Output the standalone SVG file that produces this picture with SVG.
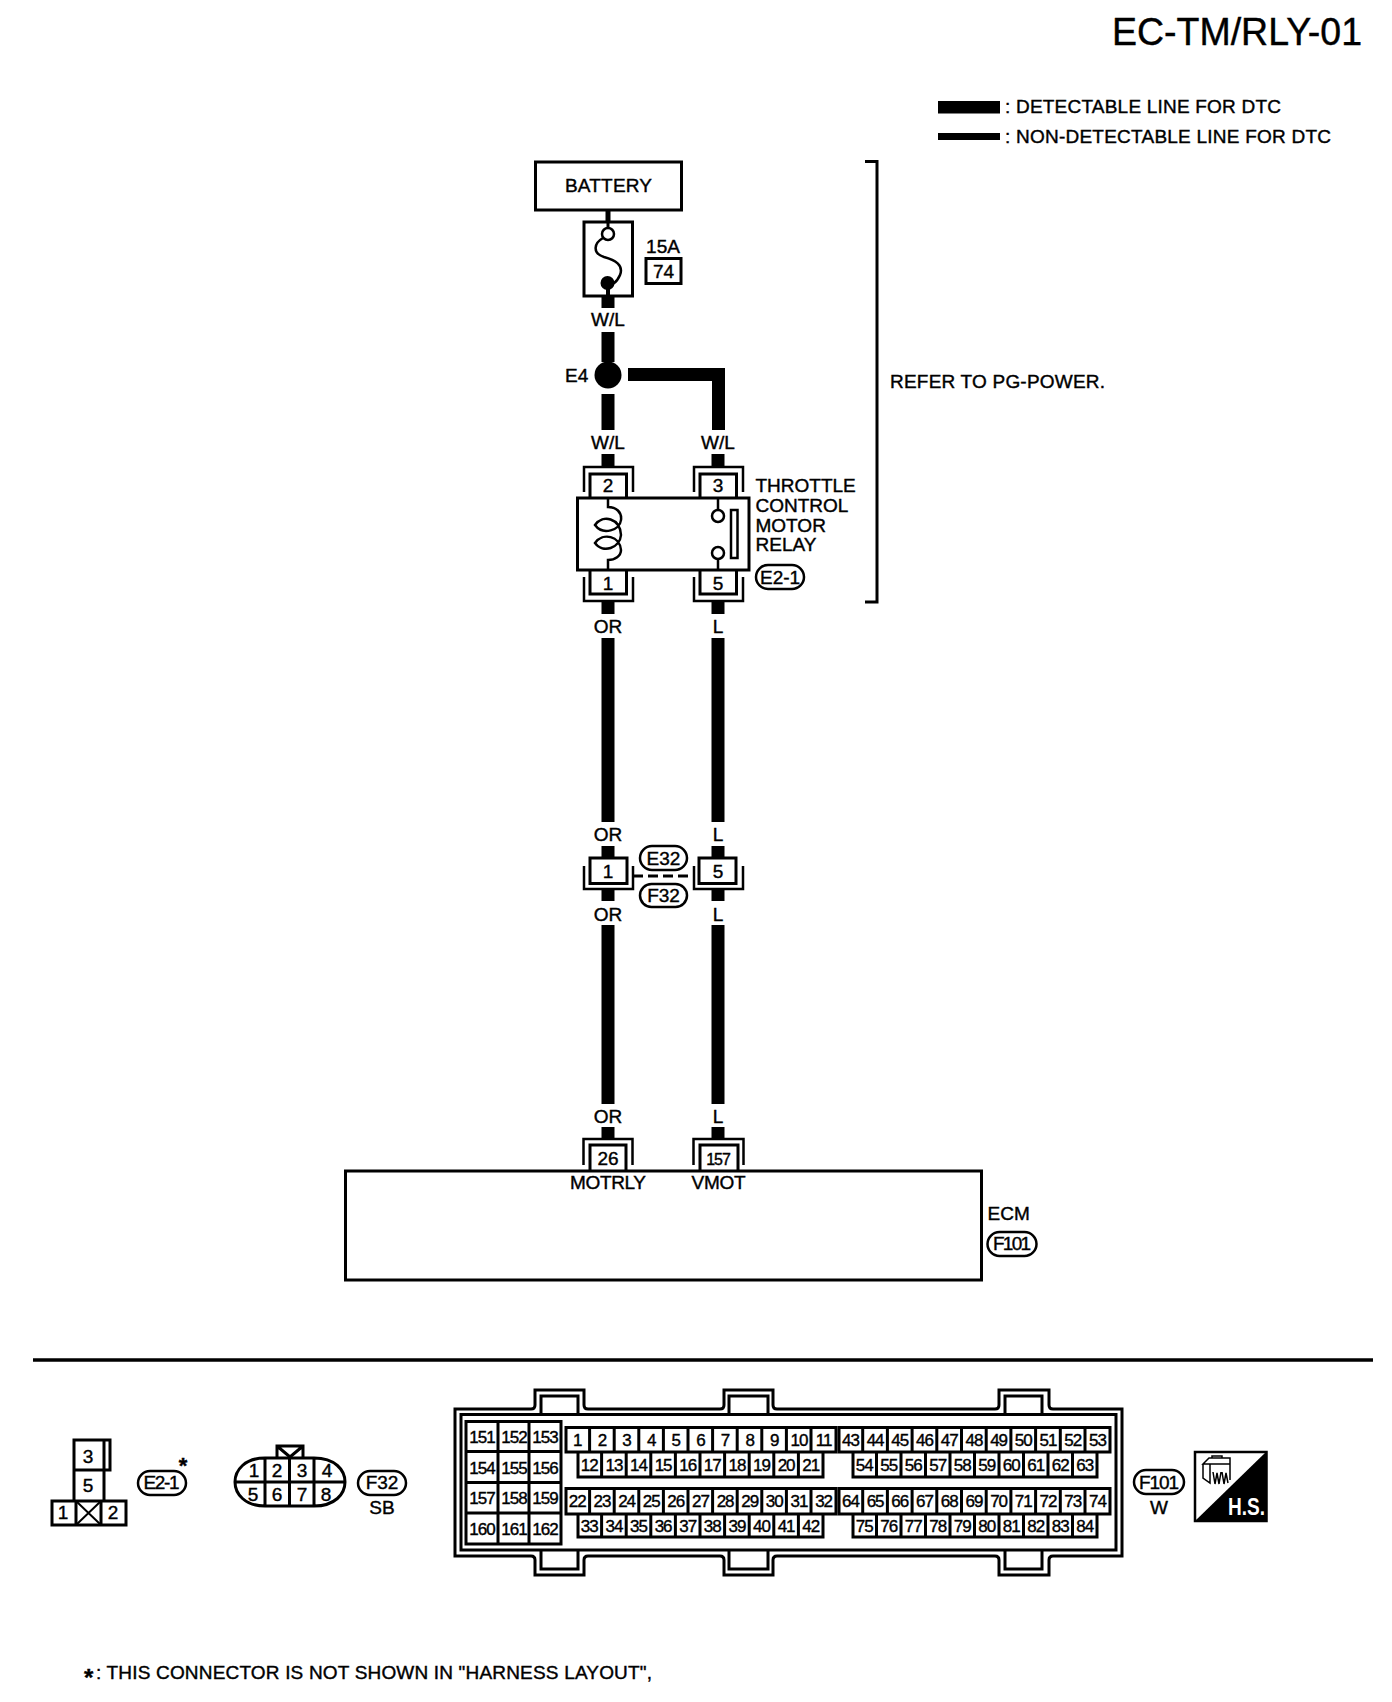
<svg xmlns="http://www.w3.org/2000/svg" width="1392" height="1702" viewBox="0 0 1392 1702">
<style>
text{font-family:"Liberation Sans",Arial,sans-serif;font-size:19px;fill:#000;stroke:#000;stroke-width:.4}
.m{text-anchor:middle}
.s{font-size:17px;letter-spacing:-1px}
.ln{fill:none;stroke:#000;stroke-width:3}
.tn{fill:none;stroke:#000;stroke-width:2.5}
.br{fill:none;stroke:#000;stroke-width:2.500}
.w{fill:none;stroke:#000;stroke-width:13}
.pill{fill:#fff;stroke:#000;stroke-width:2.5}
</style>
<rect width="1392" height="1702" fill="#fff"/>
<g id="title"><text x="1112" y="45" style="font-size:38px" textLength="250" lengthAdjust="spacingAndGlyphs">EC-TM/RLY-01</text></g>
<g id="legend">
<rect x="938" y="101" width="62" height="12.5"/>
<rect x="938" y="133" width="62" height="7"/>
<text x="1005" y="113" textLength="276">: DETECTABLE LINE FOR DTC</text>
<text x="1005" y="143" textLength="326">: NON-DETECTABLE LINE FOR DTC</text>
</g>
<g id="connectors">
<path d="M608 210V222" fill="none" stroke="#000" stroke-width="5"/>
<path class="w" d="M608 296V308M608 332V362M608 394V430M608 454V466M628 374.500H718.500V430M718 454V466M608 602V614M718 602V614M608 638V822M718 638V822M608 846V857M718 846V857M608 890V901M718 890V901M608 925V1104M718 925V1104M608 1127V1138M718 1127V1138"/>
<path d="M633 876H693" fill="none" stroke="#000" stroke-width="3" stroke-dasharray="10 5"/>
</g>
<g id="battery"><rect class="ln" x="535.500" y="162" width="146" height="48"/><text class="m" x="608.500" y="192" textLength="87">BATTERY</text></g>
<g id="fuse">
<rect class="ln" x="584" y="222" width="48.500" height="74"/>
<path d="M608 221V228" fill="none" stroke="#000" stroke-width="3"/>
<circle class="tn" cx="608" cy="234" r="6"/>
<path class="tn" d="M603 238C594 243 592 253 604 257C615 260 624 265 620 275C618 280 616 282 613 284"/>
<circle cx="607.500" cy="283" r="7"/>
<path d="M608 283V296" fill="none" stroke="#000" stroke-width="4"/>
<text class="m" x="663" y="253">15A</text>
<rect class="ln" x="646" y="258.500" width="35" height="25"/>
<text class="m" x="663.500" y="278">74</text>
</g>
<g id="E4"><circle cx="608" cy="375" r="13.500"/><text x="565" y="382">E4</text><text class="m" x="608" y="326">W/L</text></g>
<g id="wire-labels">
<text class="m" x="608" y="449">W/L</text><text class="m" x="718" y="449">W/L</text>
<text class="m" x="608" y="633">OR</text><text class="m" x="718" y="633">L</text>
<text class="m" x="608" y="841">OR</text><text class="m" x="718" y="841">L</text>
<text class="m" x="608" y="921">OR</text><text class="m" x="718" y="921">L</text>
<text class="m" x="608" y="1123">OR</text><text class="m" x="718" y="1123">L</text>
</g>
<g id="relay">
<path class="br" d="M584 492V467H633V492M694 492V467H743V492M584 577V601H633V577M694 577V601H743V577"/>
<path class="ln" d="M590 497V474H626.500V497M700 497V474H736.500V497M590 570V594H626.500V570M700 570V594H736.500V570"/>
<rect class="ln" x="577.500" y="498" width="171.500" height="72"/>
<path class="tn" d="M608 498V507C616 507 622 512 621 520C620 530 603 536 595 525C603 514 620 518 621 535C620 548 603 554 595 543C603 532 620 536 621 550C621 556 615 560 608 560V570"/>
<path class="tn" d="M718 498V510M718 559V570"/>
<circle class="tn" cx="718" cy="516" r="6"/><circle class="tn" cx="718" cy="553" r="6"/>
<rect class="tn" x="731" y="510" width="6.500" height="48"/>
<text class="m" x="608" y="492">2</text><text class="m" x="718" y="492">3</text>
<text class="m" x="608" y="590">1</text><text class="m" x="718" y="590">5</text>
<text x="755.500" y="492">THROTTLE</text>
<text x="755.500" y="512">CONTROL</text>
<text x="755.500" y="532">MOTOR</text>
<text x="755.500" y="551">RELAY</text>
<rect class="pill" x="756" y="565" width="48" height="24" rx="12"/><text class="m" x="780" y="584" textLength="40">E2-1</text>
</g>
<g id="bracket"><path class="ln" d="M865 161.500H877V602H865"/><text x="890" y="388" textLength="215">REFER TO PG-POWER.</text></g>
<g id="joint">
<path class="br" d="M584 866V889H633V866M694 866V889H743V866"/>
<rect class="ln" x="590" y="858" width="37" height="25.500"/>
<rect class="ln" x="699" y="858" width="37" height="25.500"/>
<text class="m" x="608" y="877.500">1</text><text class="m" x="718" y="877.500">5</text>
<rect class="pill" x="640" y="846" width="47" height="24" rx="12"/><text class="m" x="663.500" y="865">E32</text>
<rect class="pill" x="640" y="884" width="47" height="23" rx="11.500"/><text class="m" x="663.500" y="902">F32</text>
</g>
<g id="ecm">
<path class="br" d="M583.500 1165V1139H632.500V1165M693.500 1165V1139H743.500V1165"/>
<path class="ln" d="M590 1170V1145H626V1170M700 1170V1145H738V1170"/>
<rect class="ln" x="345.500" y="1171" width="636" height="109"/>
<text class="m" x="608" y="1165">26</text><text class="m s" x="718" y="1165" style="font-size:16px">157</text>
<text class="m" x="608" y="1189" textLength="76">MOTRLY</text><text class="m" x="718.500" y="1189" textLength="54">VMOT</text>
<text x="987.500" y="1220">ECM</text>
<rect class="pill" x="987.500" y="1232" width="49" height="24" rx="12"/><text class="m" x="1012" y="1250" textLength="38">F101</text>
</g>
<path id="divider" d="M33 1360H1373" fill="none" stroke="#000" stroke-width="3.500"/>
<g id="conn-E2-1">
<path class="ln" d="M74 1440H104V1470H74ZM104 1440H110V1470H104M74 1470H104V1501H74ZM52 1501H126V1525H52ZM76 1501V1525M101 1501V1525"/>
<path d="M76 1501L101 1525M101 1501L76 1525" fill="none" stroke="#000" stroke-width="2"/>
<text class="m" x="88" y="1463">3</text><text class="m" x="88" y="1492">5</text><text class="m" x="63" y="1519">1</text><text class="m" x="113" y="1519">2</text>
<rect class="pill" x="138" y="1471" width="48" height="24" rx="12"/><text class="m" x="161.500" y="1489" textLength="36">E2-1</text>
<text class="m" x="183" y="1473" style="font-size:22px;font-weight:bold">*</text>
</g>
<g id="conn-F32">
<path class="ln" d="M277 1457V1446H303V1457M277 1446L290 1457L303 1446"/>
<path class="ln" d="M265 1458H314C335 1458 345 1470 345 1482C345 1494 335 1506 314 1506H265C245 1506 235 1494 235 1482C235 1470 245 1458 265 1458ZM235 1482H345M265 1458V1506M289.500 1458V1506M314 1458V1506"/>
<g><text class="m" x="254" y="1477">1</text><text class="m" x="277" y="1477">2</text><text class="m" x="302" y="1477">3</text><text class="m" x="327" y="1477">4</text>
<text class="m" x="253" y="1501">5</text><text class="m" x="277" y="1501">6</text><text class="m" x="302" y="1501">7</text><text class="m" x="326" y="1501">8</text></g>
<rect class="pill" x="358" y="1471" width="48" height="24" rx="12"/><text class="m" x="382" y="1489">F32</text>
<text class="m" x="382" y="1514">SB</text>
</g>
<g id="conn-F101">
<path class="ln" d="M455 1409H531Q535 1409 535 1405V1390H584V1405Q584 1409 588 1409H720Q724 1409 724 1405V1390H773V1405Q773 1409 777 1409H995Q999 1409 999 1405V1390H1049V1405Q1049 1409 1053 1409H1122V1556H1053Q1049 1556 1049 1560V1575H999V1560Q999 1556 995 1556H777Q773 1556 773 1560V1575H724V1560Q724 1556 720 1556H588Q584 1556 584 1560V1575H535V1560Q535 1556 531 1556H455Z"/>
<path class="ln" d="M461 1414.500H1116V1550H461ZM541 1414V1396H578V1414M729 1414V1396H768V1414M1005 1414V1396H1042V1414M541 1550V1569H578V1550M729 1550V1569H768V1550M1005 1550V1569H1042V1550"/>
<path class="ln" d="M466 1421.500H561V1544H466ZM498 1421V1544M529 1421V1544M466 1451.500H561M466 1482.500H561M466 1513H561"/>
<path class="ln" d="M566 1427.500H836V1452H566ZM578 1452V1477H823V1452M589.600 1427V1452M614.200 1427V1452M638.800 1427V1452M663.400 1427V1452M688 1427V1452M712.600 1427V1452M737.200 1427V1452M761.800 1427V1452M786.400 1427V1452M811 1427V1452M601.600 1452V1477M626.200 1452V1477M650.800 1452V1477M675.400 1452V1477M700 1452V1477M724.600 1452V1477M749.200 1452V1477M773.800 1452V1477M798.400 1452V1477"/>
<path class="ln" d="M566 1488.500H836V1514H566ZM578 1514V1537H823V1514M589.600 1488V1514M614.200 1488V1514M638.800 1488V1514M663.400 1488V1514M688 1488V1514M712.600 1488V1514M737.200 1488V1514M761.800 1488V1514M786.400 1488V1514M811 1488V1514M601.600 1514V1537M626.200 1514V1537M650.800 1514V1537M675.400 1514V1537M700 1514V1537M724.600 1514V1537M749.200 1514V1537M773.800 1514V1537M798.400 1514V1537"/>
<path class="ln" d="M839 1427.500H1110V1452H839ZM853 1452V1477H1097V1452M862.700 1427V1452M887.400 1427V1452M912.100 1427V1452M936.800 1427V1452M961.500 1427V1452M986.200 1427V1452M1010.900 1427V1452M1035.600 1427V1452M1060.300 1427V1452M1085 1427V1452M876.500 1452V1477M901 1452V1477M925.500 1452V1477M950 1452V1477M974.500 1452V1477M999 1452V1477M1023.500 1452V1477M1048 1452V1477M1072.500 1452V1477"/>
<path class="ln" d="M839 1488.500H1110V1514H839ZM853 1514V1537H1097V1514M862.700 1488V1514M887.400 1488V1514M912.100 1488V1514M936.800 1488V1514M961.500 1488V1514M986.200 1488V1514M1010.900 1488V1514M1035.600 1488V1514M1060.300 1488V1514M1085 1488V1514M876.500 1514V1537M901 1514V1537M925.500 1514V1537M950 1514V1537M974.500 1514V1537M999 1514V1537M1023.500 1514V1537M1048 1514V1537M1072.500 1514V1537"/>
<text class="m s" x="482" y="1443">151</text><text class="m s" x="514" y="1443">152</text><text class="m s" x="545" y="1443">153</text>
<text class="m s" x="482" y="1474">154</text><text class="m s" x="514" y="1474">155</text><text class="m s" x="545" y="1474">156</text>
<text class="m s" x="482" y="1504">157</text><text class="m s" x="514" y="1504">158</text><text class="m s" x="545" y="1504">159</text>
<text class="m s" x="482" y="1535">160</text><text class="m s" x="514" y="1535">161</text><text class="m s" x="545" y="1535">162</text>
<text class="m s" x="577.300" y="1446">1</text><text class="m s" x="602" y="1446">2</text><text class="m s" x="626.600" y="1446">3</text><text class="m s" x="651.200" y="1446">4</text><text class="m s" x="675.800" y="1446">5</text><text class="m s" x="700.500" y="1446">6</text><text class="m s" x="725.100" y="1446">7</text><text class="m s" x="749.700" y="1446">8</text><text class="m s" x="774.300" y="1446">9</text><text class="m s" x="799" y="1446">10</text><text class="m s" x="823.600" y="1446">11</text>
<text class="m s" x="589.300" y="1471">12</text><text class="m s" x="613.900" y="1471">13</text><text class="m s" x="638.500" y="1471">14</text><text class="m s" x="663.100" y="1471">15</text><text class="m s" x="687.700" y="1471">16</text><text class="m s" x="712.300" y="1471">17</text><text class="m s" x="736.900" y="1471">18</text><text class="m s" x="761.500" y="1471">19</text><text class="m s" x="786.100" y="1471">20</text><text class="m s" x="810.700" y="1471">21</text>
<text class="m s" x="577.300" y="1507">22</text><text class="m s" x="602" y="1507">23</text><text class="m s" x="626.600" y="1507">24</text><text class="m s" x="651.200" y="1507">25</text><text class="m s" x="675.800" y="1507">26</text><text class="m s" x="700.500" y="1507">27</text><text class="m s" x="725.100" y="1507">28</text><text class="m s" x="749.700" y="1507">29</text><text class="m s" x="774.300" y="1507">30</text><text class="m s" x="799" y="1507">31</text><text class="m s" x="823.600" y="1507">32</text>
<text class="m s" x="589.300" y="1532">33</text><text class="m s" x="613.900" y="1532">34</text><text class="m s" x="638.500" y="1532">35</text><text class="m s" x="663.100" y="1532">36</text><text class="m s" x="687.700" y="1532">37</text><text class="m s" x="712.300" y="1532">38</text><text class="m s" x="736.900" y="1532">39</text><text class="m s" x="761.500" y="1532">40</text><text class="m s" x="786.100" y="1532">41</text><text class="m s" x="810.700" y="1532">42</text>
<text class="m s" x="850.400" y="1446">43</text><text class="m s" x="875.100" y="1446">44</text><text class="m s" x="899.800" y="1446">45</text><text class="m s" x="924.500" y="1446">46</text><text class="m s" x="949.200" y="1446">47</text><text class="m s" x="973.900" y="1446">48</text><text class="m s" x="998.600" y="1446">49</text><text class="m s" x="1023.300" y="1446">50</text><text class="m s" x="1048" y="1446">51</text><text class="m s" x="1072.700" y="1446">52</text><text class="m s" x="1097.400" y="1446">53</text>
<text class="m s" x="864.300" y="1471">54</text><text class="m s" x="888.800" y="1471">55</text><text class="m s" x="913.300" y="1471">56</text><text class="m s" x="937.800" y="1471">57</text><text class="m s" x="962.300" y="1471">58</text><text class="m s" x="986.800" y="1471">59</text><text class="m s" x="1011.300" y="1471">60</text><text class="m s" x="1035.800" y="1471">61</text><text class="m s" x="1060.300" y="1471">62</text><text class="m s" x="1084.800" y="1471">63</text>
<text class="m s" x="850.400" y="1507">64</text><text class="m s" x="875.100" y="1507">65</text><text class="m s" x="899.800" y="1507">66</text><text class="m s" x="924.500" y="1507">67</text><text class="m s" x="949.200" y="1507">68</text><text class="m s" x="973.900" y="1507">69</text><text class="m s" x="998.600" y="1507">70</text><text class="m s" x="1023.300" y="1507">71</text><text class="m s" x="1048" y="1507">72</text><text class="m s" x="1072.700" y="1507">73</text><text class="m s" x="1097.400" y="1507">74</text>
<text class="m s" x="864.300" y="1532">75</text><text class="m s" x="888.800" y="1532">76</text><text class="m s" x="913.300" y="1532">77</text><text class="m s" x="937.800" y="1532">78</text><text class="m s" x="962.300" y="1532">79</text><text class="m s" x="986.800" y="1532">80</text><text class="m s" x="1011.300" y="1532">81</text><text class="m s" x="1035.800" y="1532">82</text><text class="m s" x="1060.300" y="1532">83</text><text class="m s" x="1084.800" y="1532">84</text>
<rect class="pill" x="1134" y="1470" width="50" height="24" rx="12"/><text class="m" x="1159" y="1489" textLength="40">F101</text>
<text class="m" x="1159" y="1514">W</text>
</g>
<g id="hs-icon">
<rect x="1195" y="1452" width="71.500" height="69" fill="#fff" stroke="#000" stroke-width="2.500"/>
<path d="M1267 1451V1522H1194Z"/>
<path d="M1203 1464L1209 1458H1230V1464ZM1203 1464V1478L1210 1483V1464M1230 1464V1480M1212 1458V1456H1222V1458M1213 1472L1215 1484L1217 1473L1219 1484L1221 1472M1222 1472L1224 1484L1226 1473L1228 1483" fill="none" stroke="#000" stroke-width="1.500"/>
<text x="1228" y="1515" textLength="37" lengthAdjust="spacingAndGlyphs" style="font-size:24px;font-weight:bold;fill:#fff;stroke:none">H.S.</text>
</g>
<g id="footnote"><text x="84" y="1679"><tspan dy="7" style="font-size:24px;font-weight:bold">*</tspan><tspan x="96" dy="-7" textLength="556">: THIS CONNECTOR IS NOT SHOWN IN "HARNESS LAYOUT",</tspan></text></g>
</svg>
